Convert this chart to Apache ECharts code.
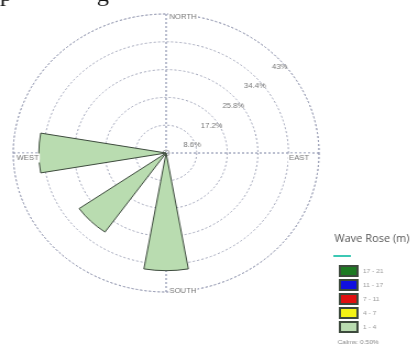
<!DOCTYPE html>
<html>
<head>
<meta charset="utf-8">
<script src="https://cdn.jsdelivr.net/npm/echarts@6/dist/echarts.min.js"></script>
<style>
html,body{margin:0;padding:0;background:#fff;overflow:hidden;}
#c{width:377px;height:353px;transform:scaleX(1.1);transform-origin:0 0;}
</style>
</head>
<body>
<div id="c"></div>
<script>
// Directions (16-point compass, clockwise from north)
var directions = ['N','NNE','NE','ENE','E','ESE','SE','SSE','S','SSW','SW','WSW','W','WNW','NW','NNW'];
var compassDirs = ['N','E','S','W'];
var compassLabels = ['NORTH','EAST','SOUTH','WEST'];
// Wave height bins (m) and frequency (%) per direction
var binNames = ['17 - 21','11 - 17','7 - 11','4 - 7','1 - 4'];
var binColors = ['#1d7a22','#1010e0','#e01010','#f4f414','#b9dcb0'];
var bin1to4 = [0,0,0,0,0,0,0,0,36.4,0,29.9,0,35.8,0,0,0];
var bin4to7 = [0,0,0,0,0,0,0,0,0,0,0,0,0,0,0,0];
var bin7to11 = [0,0,0,0,0,0,0,0,0,0,0,0,0,0,0,0];
var bin11to17 = [0,0,0,0,0,0,0,0,0,0,0,0,0,0,0,0];
var bin17to21 = [0,0,0,0,0,0,0,0,0,0,0,0,0,0,0,0];
var radiusTicks = [8.6, 17.2, 25.8, 34.4, 43];
var calms = '0.50%';
var titleText = 'Wave Rose (m)';

var binData = [bin17to21, bin11to17, bin7to11, bin4to7, bin1to4];
var chart = echarts.init(document.getElementById('c'));
var center = [151, 153];
var R = 139;

var series = [];
for (var i = binNames.length - 1; i >= 0; i--) {
  series.push({
    type: 'bar', coordinateSystem: 'polar', polarIndex: 0,
    name: binNames[i], stack: 'w',
    data: binData[i].map(function (v) { return v > 0 ? v : null; }),
    barCategoryGap: '12%',
    itemStyle: {color: binColors[i], borderColor: '#3d4a3d', borderWidth: 1}
  });
}
chart.setOption({
  animation: false,
  title: [
    {text: titleText, left: 299, top: 229, textStyle: {fontFamily: 'Open Sans', fontSize: 10, fontWeight: 'normal', color: '#555'}},
    {text: 'Calms: ' + calms, left: 302, top: 334, textStyle: {fontFamily: 'Liberation Sans', fontSize: 6, fontWeight: 'normal', color: '#888'}}
  ],
  legend: {
    orient: 'vertical', left: 303, top: 260, itemWidth: 16, itemHeight: 10, itemGap: 2,
    data: binNames, icon: 'rect',
    textStyle: {fontSize: 6, color: '#999', fontFamily: 'Liberation Sans', lineHeight: 10}
  },
  polar: [
    {center: center, radius: R},
    {center: center, radius: R}
  ],
  angleAxis: [
    {polarIndex: 0, type: 'category', data: directions, boundaryGap: false, startAngle: 90, clockwise: true,
     axisLine: {show: false},
     axisTick: {show: false, interval: 3},
     axisLabel: {show: false, interval: 3},
     splitLine: {show: true, interval: 3, lineStyle: {color: '#7880a0', type: [2,2], width: 1}}},
    {polarIndex: 1, type: 'value', startAngle: 45, min: 0, max: 360,
     axisLine: {show: true, lineStyle: {color: '#9ea2b8', type: [2,2], width: 1}},
     axisTick: {show: false}, axisLabel: {show: false}, splitLine: {show: false}}
  ],
  radiusAxis: [
    {polarIndex: 0, type: 'value', min: 0, max: 43, interval: 8.6,
     axisLine: {show: false}, axisTick: {show: false}, axisLabel: {show: false}, splitLine: {show: false}},
    {polarIndex: 1, type: 'value', min: 0, max: 43, interval: 8.6,
     axisLine: {show: false}, axisTick: {show: false},
     splitLine: {show: true, lineStyle: {color: '#a0a4b8', type: [2,2], width: 1}},
     axisLabel: {show: true, fontSize: 7, color: '#777', fontFamily: 'Liberation Sans', margin: -17,
       formatter: function (v) { return radiusTicks.indexOf(+v.toFixed(1)) >= 0 ? (v === 43 ? '43%' : v.toFixed(1) + '%') : ''; }}}
  ],
  series: series
});

// compass labels placed at the outer ring through the polar scale
var place = {
  N: {dx: 2, dy: 3, align: 'left'},
  E: {dx: -8, dy: 5, align: 'right'},
  S: {dx: 2, dy: -1, align: 'left'},
  W: {dx: 2, dy: 5, align: 'left'}
};
var graphics = [
  {type: 'rect', shape: {x: 303, y: 255, width: 16, height: 2}, style: {fill: '#3cc8b4'}},
  {type: 'text', x: 0, y: -16, style: {text: 'p', font: '22px "Liberation Serif"', fill: '#111'}},
  {type: 'text', x: 88, y: -16, style: {text: 'g', font: '22px "Liberation Serif"', fill: '#111'}},
  {type: 'circle', shape: {cx: center[0], cy: center[1], r: 3}, style: {fill: 'none', stroke: '#aaa', lineWidth: 1}}
];
compassDirs.forEach(function (d, k) {
  var p = chart.convertToPixel({polarIndex: 0}, [radiusTicks[radiusTicks.length - 1], d]);
  var s = place[d];
  graphics.push({type: 'text', z: 10, x: p[0] + s.dx, y: p[1] + s.dy,
    style: {text: compassLabels[k], font: '7px "Liberation Sans"', fill: '#777', align: s.align,
      verticalAlign: 'middle', backgroundColor: '#fff', padding: [1, 1]}});
});
chart.setOption({graphic: graphics});
</script>
</body>
</html>
